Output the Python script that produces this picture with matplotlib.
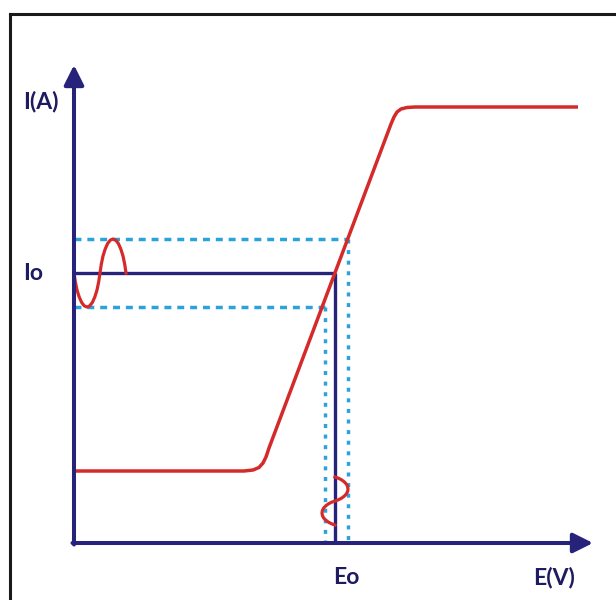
#!/usr/bin/env python

"""
sketch of an I(E) response curve with a small sine perturbation around (E0, I0)
"""

import numpy as np
import matplotlib
matplotlib.use("Agg")
import matplotlib.pyplot as plt
from matplotlib.lines import Line2D

# operating point and perturbation band (units ~ pixels of the original sketch)
E0 = 261
I0 = 270
E_lo, E_hi = 251, 274
I_lo, I_hi = 236, 304

# red response curve
curve_E = [0, 170, 179, 185, 189, 192, 195, 317, 320, 323, 327, 333, 341, 504]
curve_I = [72, 72, 73, 75.5, 80, 86, 95, 419, 426, 431, 434, 435.5, 436, 436]

# input wave along the I axis (E offset, I offset from I0)
wave_I_dE = [0, 1.3, 3.0, 5.2, 7.6, 10.2, 13, 15.8, 18.4, 20.8, 23.0, 24.7, 26,
             27.3, 29.0, 31.2, 33.6, 36.2, 39, 41.8, 44.4, 46.8, 49.0, 50.7, 52]
wave_I_dI = [0, -8.8, -17, -24, -29.4, -32.8, -34, -32.8, -29.4, -24, -17, -8.8, 0,
             8.8, 17, 24, 29.4, 32.8, 34, 32.8, 29.4, 24, 17, 8.8, 0]

# output wave along the E axis (I position, E offset from E0)
wave_E_I = [66, 64.8, 63.2, 61.2, 59, 56.6, 54, 51.4, 49, 46.8, 44.8, 43.2, 42,
            40.8, 39.2, 37.2, 35, 32.6, 30, 27.4, 25, 22.8, 20.8, 19.2, 18]
wave_E_dE = [0, 3.4, 6.5, 9.2, 11.3, 12.6, 13, 12.6, 11.3, 9.2, 6.5, 3.4, 0,
             -3.4, -6.5, -9.2, -11.3, -12.6, -13, -12.6, -11.3, -9.2, -6.5, -3.4, 0]

navy = "#27237a"
text_navy = "#1e1b60"
red = "#d42a2a"
blue = "#2ba3da"

plt.rcParams["font.family"] = ["Lato", "DejaVu Sans"]

fig = plt.figure(figsize=(6.16, 6.0), dpi=100)
ax = fig.add_axes([0, 0, 1, 1])
ax.set_xlim(-74, 542)
ax.set_ylim(-57, 543)
ax.axis("off")

# frame (only top and left edges visible)
fig.add_artist(Line2D([10/616, 10/616], [0, 1 - 14/600], color="#1a1a1a", lw=2.2))
fig.add_artist(Line2D([10/616, 1], [1 - 14/600, 1 - 14/600], color="#1a1a1a", lw=2.2))

# dashed band
hdash = (0, (2.0, 1.7))
vdash = (0, (1.15, 1.9))
ax.plot([0, E_hi], [I_hi, I_hi], color=blue, lw=2.5, linestyle=hdash)
ax.plot([0, E_lo], [I_lo, I_lo], color=blue, lw=2.5, linestyle=hdash)
ax.plot([E_hi, E_hi], [I_hi, 0], color=blue, lw=2.5, linestyle=vdash)
ax.plot([E_lo, E_lo], [I_lo, 0], color=blue, lw=2.5, linestyle=vdash)

# operating point lines
ax.plot([0, E0], [I0, I0], color=navy, lw=2.4, solid_capstyle="butt")
ax.plot([E0, E0], [I0, 0], color=navy, lw=2.4, solid_capstyle="butt")

# response curve
ax.plot(curve_E, curve_I, color=red, lw=2.5, solid_joinstyle="round", solid_capstyle="butt")

# perturbation waves
ax.plot(np.array(wave_I_dE), I0 + np.array(wave_I_dI), color=red, lw=2.3,
        solid_joinstyle="round")
ax.plot(E0 + np.array(wave_E_dE), wave_E_I, color=red, lw=2.3,
        solid_joinstyle="round")

# axes with arrows
arrow = dict(arrowstyle="-|>,head_length=0.6,head_width=0.3", color=navy,
             lw=2.9, mutation_scale=20, shrinkA=0, shrinkB=0)
ax.annotate("", xy=(0, 478), xytext=(0, -1.5), arrowprops=arrow)
ax.annotate("", xy=(519, 0), xytext=(-1.5, 0), arrowprops=arrow)

# labels
tkw = dict(color=text_navy, fontsize=16.5, fontweight="bold", ha="center", va="center")
ax.text(-33, 441, "I(A)", **tkw)
ax.text(-41, 270, "Io", **tkw)
ax.text(272, -34, "Eo", **tkw)
ax.text(480, -34, "E(V)", **tkw)

fig.savefig("out.png", dpi=100, facecolor="white")
